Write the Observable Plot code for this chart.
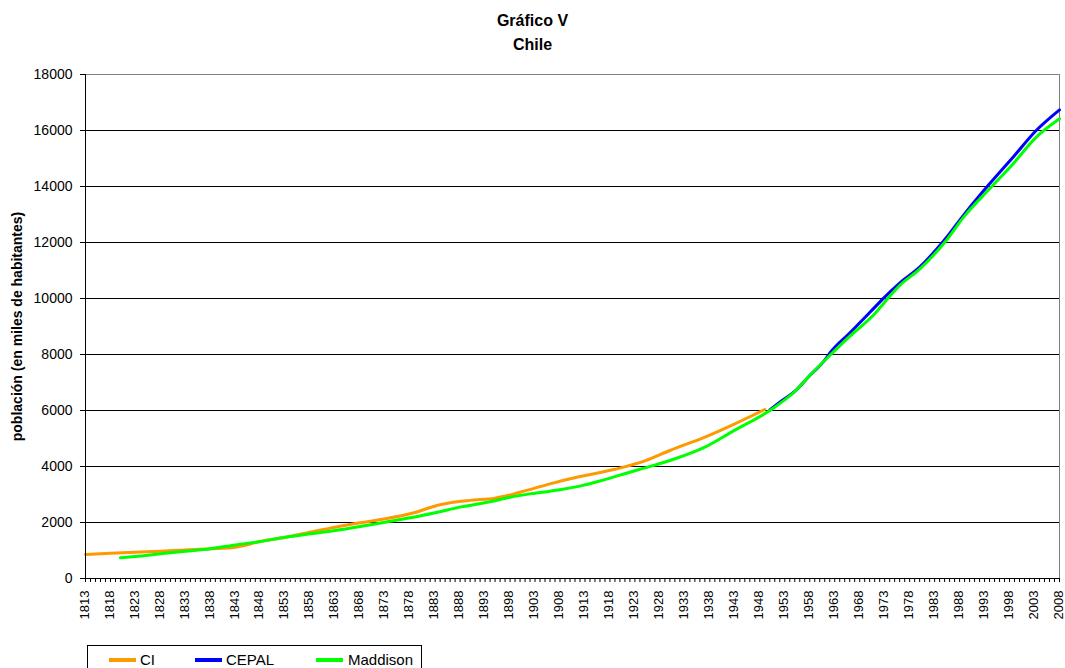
<!DOCTYPE html>
<html><head><meta charset="utf-8">
<script src="https://cdn.jsdelivr.net/npm/d3@7"></script>
<script src="https://cdn.jsdelivr.net/npm/@observablehq/plot@0.6"></script>
<style>
body{margin:0;background:#fff;font-family:"Liberation Sans",Arial,sans-serif;}
#wrap{width:1065px;height:668px;position:relative;overflow:hidden;background:#fff;}
#title{height:60px;box-sizing:border-box;padding-top:9px;text-align:center;font-weight:bold;font-size:16px;line-height:24px;color:#000;}
#chart svg{display:block;}
#legend{position:absolute;left:87px;top:645px;width:335px;height:34px;border:1px solid #000;box-sizing:border-box;background:#fff;}
.sw{position:absolute;top:12px;width:27px;height:4px;}
.lb{position:absolute;top:5px;font-size:15px;line-height:17px;color:#000;}
</style>
</head>
<body>
<div id="wrap">
  <div id="title">Gráfico V<br>Chile</div>
  <div id="chart"></div>
  <div id="legend"></div>
</div>
<script>
// ---- data ----
const seriesNames = ["CI", "CEPAL", "Maddison"];
const seriesColors = ["#FF9900", "#0000FF", "#00FF00"];

const ciYears  = [1813,1818,1823,1828,1833,1838,1843,1848,1853,1858,1863,1868,1873,1878,1884,1886,1890,1895,1900,1906,1912,1919,1925,1930,1937,1943,1949];
const ciValues = [857,900,940,975,1020,1060,1120,1320,1476,1655,1833,1988,2131,2310,2631,2702,2790,2869,3080,3381,3640,3900,4200,4571,5048,5524,6036];

const cepalYears  = [1950,1952,1955,1958,1961,1962,1966,1970,1973,1976,1980,1985,1989,1994,1999,2003,2008];
const cepalValues = [6020,6300,6680,7250,7800,8048,8770,9500,10050,10548,11119,12100,13024,14095,15107,15940,16738];

const maddYears  = [1820,1823,1828,1833,1838,1843,1848,1853,1858,1863,1868,1873,1878,1883,1888,1895,1898,1903,1906,1912,1916,1920,1924,1930,1937,1943,1950,1955,1958,1962,1966,1971,1973,1976,1980,1985,1989,1994,1999,2003,2008];
const maddValues = [740,786,881,970,1060,1200,1321,1476,1595,1714,1857,2012,2167,2350,2548,2780,2905,3048,3119,3300,3480,3690,3900,4214,4690,5300,6000,6678,7250,7964,8650,9452,9869,10464,11050,12000,12950,13916,14869,15702,16417];

const xLabelYears = d3.range(1813, 2009, 5);
const yTicks = [0,2000,4000,6000,8000,10000,12000,14000,16000,18000];
const yLabel = "población (en miles de habitantes)";

// ---- build table ----
const rows = [
  ...ciYears.map((y,i)=>({serie:"CI", year:y, value:ciValues[i]})),
  ...cepalYears.map((y,i)=>({serie:"CEPAL", year:y, value:cepalValues[i]})),
  ...maddYears.map((y,i)=>({serie:"Maddison", year:y, value:maddValues[i]}))
];

const chart = Plot.plot({
  width: 1065, height: 580,
  marginTop: 14, marginBottom: 62, marginLeft: 85, marginRight: 6,
  style: {fontFamily: "Liberation Sans, Arial, sans-serif", background: "#fff", color: "#000"},
  x: {domain: [1813, 2008]},
  y: {domain: [0, 18000]},
  color: {domain: seriesNames, range: seriesColors},
  marks: [
    Plot.gridY(yTicks, {stroke: "#000", strokeOpacity: 1}),
    Plot.ruleY([18000], {stroke: "#808080"}),
    Plot.ruleX([2008], {stroke: "#808080"}),
    Plot.line(rows, {x: "year", y: "value", z: "serie", stroke: "serie", strokeWidth: 3, curve: "monotone-x"}),
    Plot.ruleX([1813], {stroke: "#000"}),
    Plot.ruleY([0], {stroke: "#000"}),
    Plot.axisY(yTicks, {tickSize: 5, tickPadding: 8, fontSize: 14, label: null, tickFormat: d => String(d)}),
    Plot.axisX(d3.range(1813, 2009), {tickSize: 4, tickFormat: () => "", label: null}),
    Plot.axisX(xLabelYears, {tickSize: 0, tickPadding: 12, tickRotate: -90, fontSize: 13, dx: -1, label: null, tickFormat: d => String(d)}),
    Plot.text([yLabel], {text: d => d, frameAnchor: "left", textAnchor: "middle", dx: -68, rotate: -90, fontWeight: "bold", fontSize: 14})
  ]
});
document.getElementById("chart").appendChild(chart);

// ---- legend ----
const legend = document.getElementById("legend");
const swX = [21, 107, 228];
const lbX = [52, 138, 260];
seriesNames.forEach((n, i) => {
  const s = document.createElement("div");
  s.className = "sw"; s.style.left = swX[i] + "px"; s.style.background = seriesColors[i];
  legend.appendChild(s);
  const t = document.createElement("div");
  t.className = "lb"; t.style.left = lbX[i] + "px"; t.textContent = n;
  legend.appendChild(t);
});
</script>
</body></html>
